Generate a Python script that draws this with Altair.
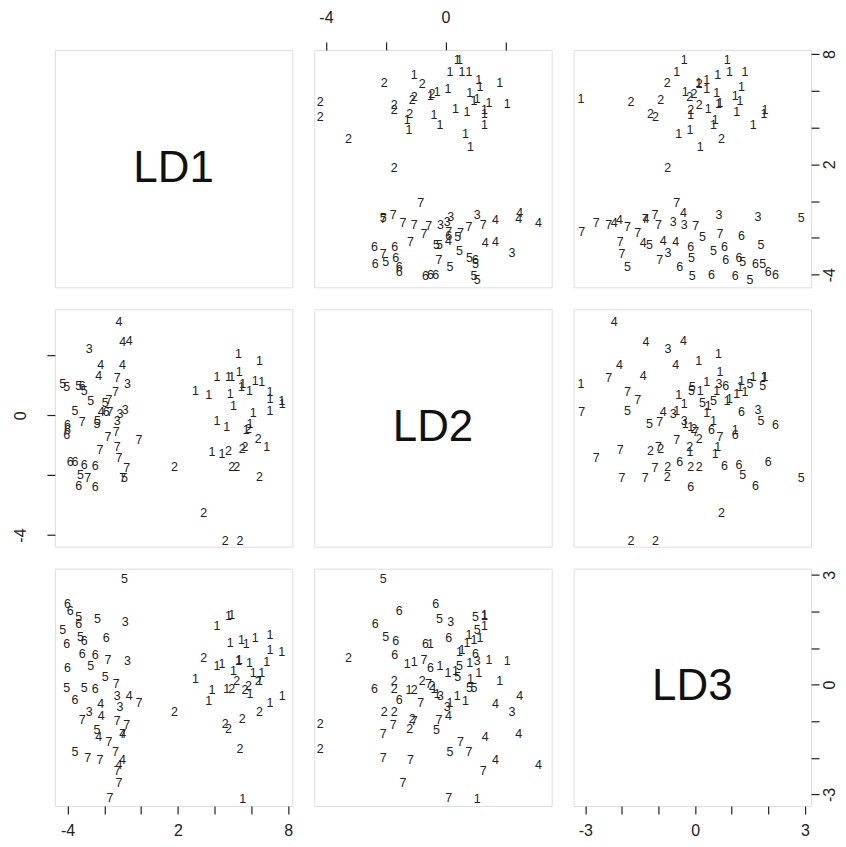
import altair as alt
import pandas as pd

var_names = ["LD1", "LD2", "LD3"]

labels = (["1"] * 28 + ["2"] * 12 + ["3"] * 5 + ["4"] * 7 + ["5"] * 11 + ["6"] * 11 + ["7"] * 14)

ld1 = [5.29, 6.43, 4.12, 4.75, 4.93, 5.33, 6.56, 2.95, 3.67, 4.84, 5.53, 5.89, 7.01, 7.67,
       7.65, 7.01, 5.02, 6.10, 4.12, 4.66, 5.92, 5.71, 6.83, 3.85, 4.39, 5.45, 6.20, 7.01,
       1.81, 3.40, 4.57, 5.38, 6.43, 4.93, 5.20, 4.75, 5.50, 5.65, 6.37, 5.83,
       -2.83, -0.87, -0.75, -1.15, -1.30,
       -1.20, -1.00, -0.65, -2.20, -2.30, -1.02, -2.17,
       -0.90, -4.27, -3.40, -4.05, -1.95, -3.60, -2.38, -2.74, -2.40, -3.10, -3.30,
       -3.20, -4.00, -4.05, -3.60, -3.85, -3.10, -2.50, -3.40, -2.50, -4.00, -1.90,
       -0.12, -1.70, -1.30, -1.40, -1.75, -1.20, -2.90, -1.00, -0.78, -1.80, -1.35, -1.30, -2.24, -3.20]

ld2 = [2.06, 1.81, 1.30, 1.30, 1.30, 1.45, 1.11, 0.83, 0.67, 0.72, 1.06, 0.81, 0.78, 0.39,
       0.47, 0.15, 0.33, 0.08, -0.19, -0.39, -0.28, -0.50, -1.05, -1.22, -1.28, 0.95, 1.15, 0.55,
       -1.72, -3.25, -4.19, -4.19, -2.05, -1.72, -1.72, -1.20, -1.11, -1.05, -0.78, -0.45,
       2.22, 0.17, 1.06, 0.06, -0.17,
       3.11, 2.45, 2.48, 1.67, 1.33, 1.67, 0.10,
       -2.08, 1.06, 1.00, 0.95, 0.41, 0.15, -0.20, 0.47, -0.30, 0.80, -2.00,
       1.00, -0.33, -0.67, -1.55, -1.55, -1.67, -1.70, -2.35, -2.38, -0.50, 0.11,
       -0.83, 0.11, 1.26, 0.78, 0.50, -1.42, -2.08, -2.08, -1.75, -0.72, -0.56, -1.05, -1.17, -0.22]

ld3 = [0.64, 0.10, 1.59, 1.88, 1.91, 0.68, 0.32, 0.14, -0.45, 1.14, -3.12, 0.59, 1.36, -0.30,
       0.88, -0.50, 0.36, 0.32, 0.50, -0.12, -0.27, 1.10, 0.62, -0.14, 0.55, 1.23, 1.27, 0.94,
       -0.75, 0.72, -1.08, -1.75, -0.76, -0.12, 0.11, -1.22, -0.94, -0.15, 0.11, -0.03,
       -0.74, 1.72, 0.65, -0.60, -0.30,
       -2.21, -1.34, -0.32, -0.53, -1.42, -2.07, -0.87,
       2.90, 1.50, 1.85, -0.08, 0.20, -1.85, 1.80, 0.50, -1.25, -0.10, 1.30,
       0.84, 2.20, 1.10, -0.42, 2.00, 1.20, 0.80, 1.65, -0.12, 0.45, 1.27,
       -0.50, -3.10, -2.36, -1.85, -1.57, -2.70, -2.00, -1.36, -1.10, 0.68, 0.02, -1.00, -2.05, -0.97]

df = pd.DataFrame({"label": labels, "LD1": ld1, "LD2": ld2, "LD3": ld3})

domains = {"LD1": [-4.69, 8.22], "LD2": [-4.39, 3.55], "LD3": [-3.32, 3.17]}
tick_values = {"LD1": [-4, -2, 0, 2, 4, 6, 8], "LD2": [-4, -2, 0, 2],
               "LD3": [-3, -2, -1, 0, 1, 2, 3]}
shown = {"LD1": [-4, 2, 8], "LD2": [-4, 0], "LD3": [-3, 0, 3]}

FONT = "Liberation Sans"
INK = "#222222"
SIZE = 238


def make_axis(var, orient):
    if orient is None:
        return None
    opts = dict(
        values=tick_values[var],
        labelExpr=f"indexof({shown[var]}, datum.value) >= 0 ? '' + datum.value : ''",
        orient=orient, tickSize=8, domain=False, grid=False, title=None,
        labelOverlap=False, labelFlush=False, labelBound=False,
        labelFontSize=16, labelFont=FONT, labelColor=INK,
        tickColor=INK, tickWidth=1.2,
    )
    if orient == "bottom":
        opts.update(labelBaseline="top", labelPadding=8, labelAlign="center")
    elif orient == "top":
        opts.update(labelBaseline="bottom", labelPadding=16, labelAlign="center")
    elif orient == "left":
        opts.update(labelAngle=270, labelBaseline="bottom", labelPadding=18, labelAlign="center")
    elif orient == "right":
        opts.update(labelAngle=270, labelBaseline="top", labelPadding=2, labelAlign="center")
    return alt.Axis(**opts)


def scale(var):
    return alt.Scale(domain=domains[var], nice=False, zero=False)


def off_panel(xv, yv, xorient=None, yorient=None):
    return alt.Chart(df).mark_text(font=FONT, fontSize=12.5, color=INK).encode(
        x=alt.X(f"{xv}:Q", scale=scale(xv), axis=make_axis(xv, xorient)),
        y=alt.Y(f"{yv}:Q", scale=scale(yv), axis=make_axis(yv, yorient)),
        text="label:N",
    ).properties(width=SIZE, height=SIZE)


def diag_panel(v, xorient=None, yorient=None):
    mid = (domains[v][0] + domains[v][1]) / 2
    return alt.Chart(pd.DataFrame({"name": [v]})).mark_text(
        font=FONT, fontSize=44, color="#111111", baseline="middle", align="center"
    ).encode(
        x=alt.X(datum=mid, scale=scale(v), axis=make_axis(v, xorient)),
        y=alt.Y(datum=mid, scale=scale(v), axis=make_axis(v, yorient)),
        text="name:N",
    ).properties(width=SIZE, height=SIZE)


panels = [
    diag_panel("LD1"),
    off_panel("LD2", "LD1", xorient="top"),
    off_panel("LD3", "LD1", yorient="right"),
    off_panel("LD1", "LD2", yorient="left"),
    diag_panel("LD2"),
    off_panel("LD3", "LD2"),
    off_panel("LD1", "LD3", xorient="bottom"),
    off_panel("LD2", "LD3"),
    diag_panel("LD3", xorient="bottom", yorient="right"),
]

chart = alt.concat(
    *panels, columns=3, spacing=22, bounds="flush",
    padding={"left": 4, "top": 0, "right": 0, "bottom": 0},
).configure_view(stroke=INK, strokeWidth=1.5).configure(background="white")

chart.save("out.html", embed_options={"renderer": "svg", "actions": False})
